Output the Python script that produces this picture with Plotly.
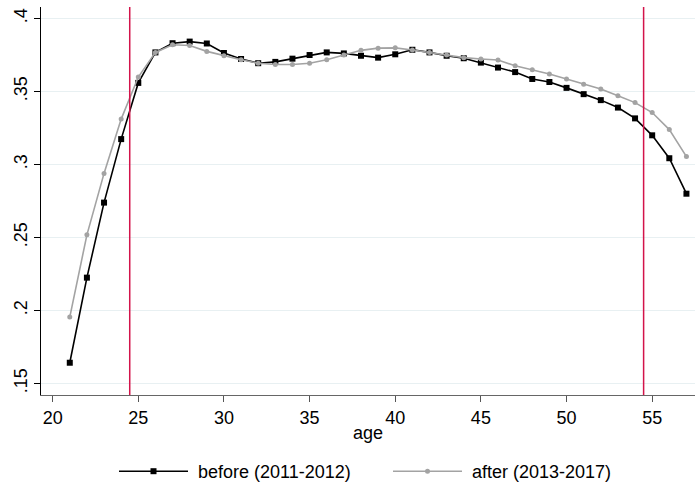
import plotly.graph_objects as go

ages = list(range(21, 58))
before = [0.1642, 0.2225, 0.2739, 0.3174, 0.3559, 0.3768, 0.3831, 0.3842, 0.3829, 0.3764,
          0.3723, 0.3694, 0.3703, 0.3725, 0.3750, 0.3768, 0.3761, 0.3745, 0.3732, 0.3755,
          0.3786, 0.3768, 0.3745, 0.3728, 0.3698, 0.3664, 0.3633, 0.3586, 0.3565, 0.3525,
          0.3482, 0.3441, 0.3390, 0.3316, 0.3200, 0.3043, 0.2800]
after = [0.1955, 0.2518, 0.2939, 0.3311, 0.3599, 0.3768, 0.3820, 0.3815, 0.3775, 0.3745,
         0.3718, 0.3694, 0.3685, 0.3685, 0.3694, 0.3718, 0.3750, 0.3782, 0.3797, 0.3799,
         0.3784, 0.3768, 0.3750, 0.3732, 0.3723, 0.3716, 0.3676, 0.3649, 0.3620, 0.3586,
         0.3550, 0.3518, 0.3471, 0.3424, 0.3356, 0.3239, 0.3054]
xlines = [24.5, 54.5]
xticks = [20, 25, 30, 35, 40, 45, 50, 55]
yticks = [0.15, 0.2, 0.25, 0.3, 0.35, 0.4]
yticklabels = [".15", ".2", ".25", ".3", ".35", ".4"]

FONT = "Liberation Sans, Arial, sans-serif"

fig = go.Figure()
fig.add_trace(go.Scatter(x=ages, y=before, mode="lines+markers", name=" before (2011-2012)",
                         line=dict(color="#000000", width=1.6),
                         marker=dict(symbol="square", size=6, color="#000000")))
fig.add_trace(go.Scatter(x=ages, y=after, mode="lines+markers", name=" after (2013-2017)",
                         line=dict(color="#a3a3a3", width=1.6),
                         marker=dict(symbol="circle", size=5, color="#a3a3a3")))

for xv in xlines:
    fig.add_shape(type="line", x0=xv, x1=xv, y0=0, y1=1, xref="x", yref="paper",
                  line=dict(color="#d3134a", width=1.5))

fig.add_annotation(text="age", xref="paper", yref="paper", x=0.5, y=-(440 - 401) / 394,
                   xanchor="center", yanchor="middle", showarrow=False,
                   font=dict(family=FONT, size=18, color="#000000"))

fig.update_layout(
    width=695, height=490,
    margin=dict(l=41, r=0, t=7, b=89),
    plot_bgcolor="white", paper_bgcolor="white",
    font=dict(family=FONT, size=18, color="#000000"),
    showlegend=True,
    legend=dict(orientation="h", x=(114 - 41) / 654, xanchor="left", y=-(479 - 401) / 394, yanchor="middle",
                itemwidth=69, entrywidth=190, entrywidthmode="pixels",
                font=dict(family=FONT, size=18), bgcolor="rgba(0,0,0,0)",
                tracegroupgap=0),
    xaxis=dict(range=[19.32, 57.5], tickvals=xticks, ticks="outside", ticklen=6, tickcolor="#555555",
               showline=True, linecolor="#666666", linewidth=1.2, showgrid=False, zeroline=False,
               tickfont=dict(family=FONT, size=18)),
    yaxis=dict(range=[0.1421, 0.4079], tickvals=yticks, ticktext=yticklabels, tickangle=-90,
               ticks="outside", ticklen=6, tickcolor="#000000",
               showline=True, linecolor="#000000", linewidth=1.2,
               showgrid=True, gridcolor="#e8f0f2", gridwidth=1, zeroline=False,
               tickfont=dict(family=FONT, size=18)),
)

fig.write_html("out.html")
